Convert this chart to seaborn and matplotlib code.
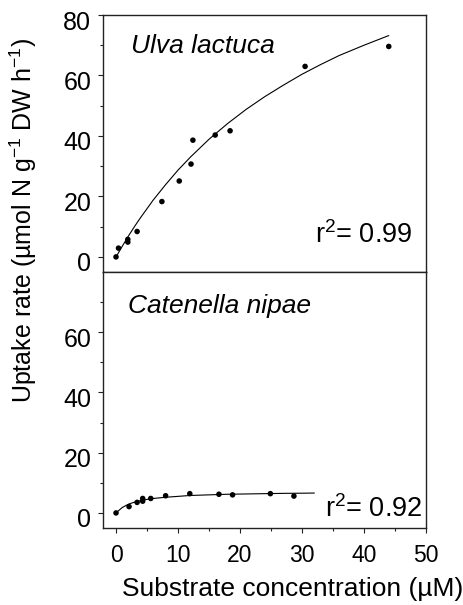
import numpy as np
import pandas as pd
import matplotlib
matplotlib.use("Agg")
import matplotlib.pyplot as plt
import matplotlib.transforms as mtransforms
import seaborn as sns

# Ulva lactuca - measured uptake points
ulva_conc = [0.0, 0.4, 1.9, 1.9, 3.4, 7.4, 10.2, 12.1, 12.4, 16.0, 18.4, 30.5, 44.0]
ulva_rate = [0.0, 2.9, 5.8, 4.9, 8.4, 18.3, 25.1, 30.7, 38.6, 40.3, 41.7, 63.0, 69.6]
# fitted curve
ulva_fit_conc = [0, 1, 2, 3, 4, 6, 8, 10, 12, 15, 18, 21, 24, 27, 30, 33, 36, 40, 44]
ulva_fit_rate = [0.0, 3.5, 6.9, 10.1, 13.1, 18.8, 23.9, 28.7, 33.0, 38.9, 44.1,
                 48.8, 53.0, 56.8, 60.4, 63.6, 66.6, 70.0, 73.2]

# Catenella nipae
cat_conc = [0.0, 2.1, 3.4, 4.3, 4.3, 5.6, 8.0, 11.9, 16.6, 18.8, 24.9, 28.7]
cat_rate = [0.0, 2.1, 3.5, 4.8, 3.9, 4.8, 5.7, 6.4, 6.2, 6.0, 6.4, 5.6]
cat_fit_conc = [0, 1, 2, 3, 4, 5, 6, 8, 10, 12, 15, 18, 21, 24, 27, 30, 32]
cat_fit_rate = [0.0, 1.8, 2.9, 3.6, 4.1, 4.5, 4.8, 5.2, 5.5, 5.8, 6.0, 6.2,
                6.3, 6.4, 6.5, 6.55, 6.6]

r2_labels = ["r$^2$= 0.99", "r$^2$= 0.92"]
species = ["Ulva lactuca", "Catenella nipae"]

sns.set_style("ticks")
plt.rcParams['font.family'] = ['Liberation Sans', 'DejaVu Sans']
plt.rcParams['mathtext.fontset'] = 'custom'
plt.rcParams['mathtext.rm'] = 'Liberation Sans'
plt.rcParams['mathtext.it'] = 'Liberation Sans:italic'
for key in ['text.color', 'axes.labelcolor', 'xtick.color', 'ytick.color']:
    plt.rcParams[key] = 'black'

fig = plt.figure(figsize=(4.64, 6.05), dpi=100)
ax_top = fig.add_axes([0.222, 0.5504, 0.696, 0.4248])
ax_bot = fig.add_axes([0.222, 0.1273, 0.696, 0.4231])

panels = [
    (ax_top, ulva_conc, ulva_rate, ulva_fit_conc, ulva_fit_rate),
    (ax_bot, cat_conc, cat_rate, cat_fit_conc, cat_fit_rate),
]

# y tick labels sit a little below their ticks in the original
shift_down = mtransforms.ScaledTranslation(0, -5 / 100, fig.dpi_scale_trans)

for i, (ax, xc, yr, fx, fy) in enumerate(panels):
    fit = pd.DataFrame({'conc': fx, 'rate': fy})
    pts = pd.DataFrame({'conc': xc, 'rate': yr})
    sns.lineplot(data=fit, x='conc', y='rate', ax=ax, color='black',
                 linewidth=0.8, estimator=None, sort=False)
    sns.scatterplot(data=pts, x='conc', y='rate', ax=ax, color='black',
                    s=16, edgecolor='none', zorder=3)
    ax.set_xlim(-2.1, 50)
    ax.set_ylim(-5, 80)
    ax.set_xlabel('')
    ax.set_ylabel('')
    ax.set_xticks([0, 10, 20, 30, 40, 50])
    ax.set_xticks([5, 15, 25, 35, 45], minor=True)
    ax.set_yticks([10, 30, 50, 70], minor=True)
    for sp in ax.spines.values():
        sp.set_visible(True)
        sp.set_color('#222222')
        sp.set_linewidth(1.0)
    ax.tick_params(which='major', direction='out', length=3.5, width=0.8,
                   color='#222222')
    ax.tick_params(which='minor', direction='out', length=2.2, width=0.8,
                   color='#222222')
    ax.tick_params(axis='y', labelsize=18, pad=5)
    ax.tick_params(axis='x', labelsize=16.5, pad=8)
    ax.text(0.088 if i == 0 else 0.077, 0.852 if i == 0 else 0.84, species[i],
            transform=ax.transAxes, fontsize=19, style='italic',
            ha='left', va='baseline')
    ax.text(0.957 if i == 0 else 0.988, 0.113 if i == 0 else 0.043, r2_labels[i],
            transform=ax.transAxes, fontsize=19.5, ha='right', va='baseline')

ax_top.set_yticks([0, 20, 40, 60, 80])
ax_top.tick_params(axis='x', labelbottom=False)
ax_bot.set_yticks([0, 20, 40, 60])

for ax in (ax_top, ax_bot):
    for lab in ax.get_yticklabels():
        lab.set_transform(lab.get_transform() + shift_down)

ax_bot.set_xlabel('Substrate concentration (µM)', fontsize=19)
ax_bot.xaxis.set_label_coords(0.588, -0.19)

fig.text(0.05, 0.636, 'Uptake rate (µmol N g$^{-1}$ DW h$^{-1}$)',
         rotation=90, ha='center', va='center', fontsize=18)

fig.savefig('out.png', dpi=100)
